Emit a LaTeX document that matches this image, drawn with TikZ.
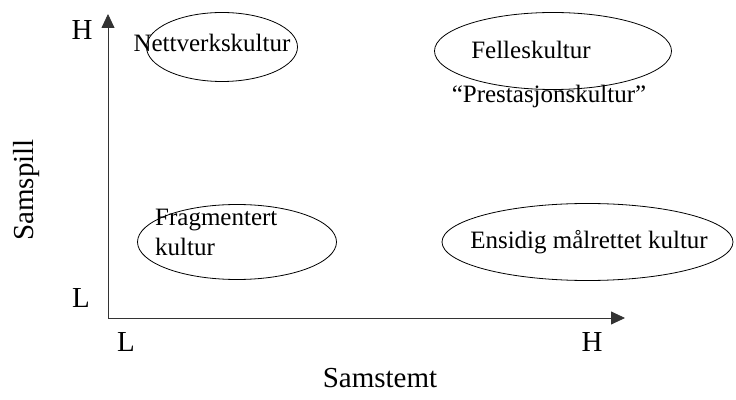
\documentclass[tikz,border=0pt]{standalone}
\usepackage{fontspec}
\setmainfont{Liberation Serif}
\usepackage{tikz}
\usetikzlibrary{shapes.geometric, arrows.meta}
\tikzstyle{kultur} = [ellipse, draw=black, line width=0.8pt, inner sep=0pt]
\tikzstyle{tekst} = [inner sep=0pt, font=\fontsize{25}{30}\selectfont]
\tikzstyle{akse} = [inner sep=0pt, font=\fontsize{29}{34}\selectfont]
\tikzstyle{arrow} = [line width=0.8pt, draw=black!80, -{Triangle[length=14pt,width=13pt]}]

\begin{document}
\begin{tikzpicture}[x=1pt, y=1pt]
\useasboundingbox (0,0) rectangle (736,399);

% akser
\coordinate (origo) at (108,81);
\coordinate (ytopp) at (108,385);
\coordinate (xtopp) at (625,81);
\draw [arrow] (origo) -- (ytopp);
\draw [arrow] (origo) -- (xtopp);

\node (yH) [akse] at (82,369) {H};
\node (yL) [akse] at (81,101) {L};
\node (xL) [akse] at (126,57) {L};
\node (xH) [akse] at (592,57) {H};
\node (samstemt) [akse] at (380,21) {Samstemt};
\node (samspill) [akse, rotate=90] at (27,209) {Samspill};

% ellipser
\node (nett) [kultur, minimum width=151pt, minimum height=69pt] at (222,352) {};
\node (felles) [kultur, minimum width=237pt, minimum height=77pt] at (553,348) {};
\node (frag) [kultur, minimum width=199pt, minimum height=75pt] at (237,157) {};
\node (ensidig) [kultur, minimum width=291pt, minimum height=77pt] at (587.5,157) {};

% tekster
\node (nettTxt) [tekst] at (212,356) {Nettverkskultur};
\node (fellesTxt) [tekst] at (531,349) {Felleskultur};
\node (prestTxt) [tekst] at (549,303) {``Prestasjonskultur''};
\node (fragTxt) [tekst, align=left, anchor=north west] at (155,190) {Fragmentert\\kultur};
\node (ensidigTxt) [tekst] at (589,157) {Ensidig målrettet kultur};

\end{tikzpicture}
\end{document}
